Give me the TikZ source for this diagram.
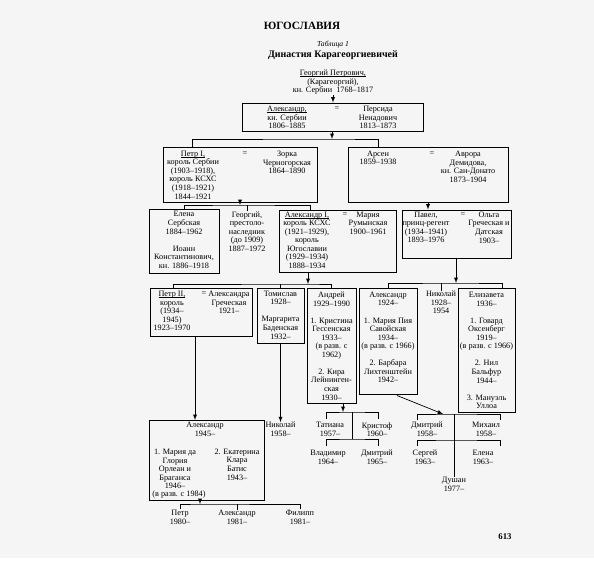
\documentclass[tikz,border=0pt]{standalone}
\usepackage{fontspec}
\setmainfont{Liberation Serif}
\usepackage{tikz}
\usetikzlibrary{arrows,positioning,calc,fit}

\definecolor{pagebg}{RGB}{245,245,245}
\newcommand{\pfont}{\fontsize{7}{7.3}\selectfont}
% underline close to the baseline, without changing the line depth
\newcommand{\uname}[1]{\setbox0\hbox{#1}\rlap{\rule[-0.9pt]{\wd0}{0.4pt}}\box0}

\begin{document}
\begin{tikzpicture}[
  x=0.03cm, y=-0.03cm,
  person/.style={align=center, inner sep=0pt, font=\pfont},
  family/.style={draw, line width=0.8pt, inner sep=0pt},
  arrow/.style={->, >=latex, line width=0.6pt},
  link/.style={line width=0.6pt}
]

% Page
\useasboundingbox (0,0) rectangle (594,566);
\fill[pagebg] (0,0) rectangle (594,558);

% Title
\node[inner sep=0pt, font=\fontsize{9.5}{11}\selectfont\bfseries] (country) at (302,26) {ЮГОСЛАВИЯ};
\node[inner sep=0pt, font=\fontsize{6.5}{7}\selectfont\itshape] (table) at (333,45) {Таблица 1};
\node[inner sep=0pt, font=\fontsize{8.5}{10}\selectfont\bfseries] (dynasty) at (333,55) {Династия Карагеоргиевичей};

% Karageorgij
\node[person] (karag) at (333,82.5) {\uname{Георгий Петрович,}\\(Карагеоргий),\\кн. Сербии\enspace 1768–1817};

\node[family, fit={(242,103) (423,131)}] (fam1) {};
\node[person] (alexK) at (287,117.5) {\uname{Александр,}\\кн. Сербии\\1806–1885};
\node[person] (eq1) at (337,109) {=};
\node[person] (persida) at (378,117.5) {Персида\\Ненадович\\1813–1873};
\draw[arrow] (karag.south) -- (karag.south |- fam1.north);

% Sons of Alexander
\node[family, fit={(163,147) (317,202)}] (fam2) {};
\node[person] (petrI) at (193,175) {\uname{Петр I,}\\король Сербии\\(1903–1918),\\король КСХС\\(1918–1921)\\1844–1921};
\node[person] (eq2) at (245,154) {=};
\node[person] (zorka) at (287,162.5) {Зорка\\Черногорская\\1864–1890};

\node[family, fit={(348,147) (508,202)}] (fam3) {};
\node[person] (arsen) at (378,158) {Арсен\\1859–1938};
\node[person] (eq3) at (432,154) {=};
\node[person] (avrora) at (468,167) {Аврора\\Демидова,\\кн. Сан-Донато\\1873–1904};

\coordinate (bar1) at (332,139);
\coordinate (top2) at (192,147);
\coordinate (top3) at (378,147);
\draw[arrow] (fam1.south -| bar1) -- (bar1);
\draw[link] (top2) |- (bar1) -| (top3);

% Children of Petr I
\node[family, fit={(149,209) (219,273)}] (fam4) {};
\node[person] (elena) at (184,240) {Елена\\Сербская\\1884–1962\\[7.3pt]Иоанн\\Константинович,\\кн. 1886–1918};
\node[person] (georgij) at (247,231.5) {Георгий,\\престоло-\\наследник\\(до 1909)\\1887–1972};

\node[family, fit={(279,210) (396,272)}] (fam5) {};
\node[person] (alexI) at (307,240) {\uname{Александр I,}\\король КСХС\\(1921–1929),\\король\\Югославии\\(1929–1934)\\1888–1934};
\node[person] (eq4) at (345,215) {=};
\node[person] (marija) at (368,223) {Мария\\Румынская\\1900–1961};

\coordinate (bar2) at (240,205);
\coordinate (top5) at (310,210);
\draw[arrow] (fam2.south) -- (bar2);
\draw[link] (fam4.north) |- (bar2) -| (top5);
\draw[link] (georgij.north) -- (georgij.north |- bar2);

% Son of Arsen
\node[family, fit={(402,210) (511,258)}] (fam6) {};
\node[person] (pavel) at (426,227.5) {Павел,\\принц-регент\\(1934–1941)\\1893–1976};
\node[person] (eq5) at (463,215) {=};
\node[person] (olga) at (489,227.5) {Ольга\\Греческая и\\Датская\\1903–};
\draw[arrow] (fam3.south) -- (fam3.south |- fam6.north);

% Children of Alexander I
\node[family, fit={(150,288) (252,336)}] (fam7) {};
\node[person] (petrII) at (172,311) {\uname{Петр II,}\\король\\(1934–\\1945)\\1923–1970};
\node[person] (eq6) at (204,294) {=};
\node[person] (aleksandra) at (229,302.5) {Александра\\Греческая\\1921–};

\node[family, fit={(257,288) (304,343)}] (fam8) {};
\node[person] (tomislav) at (280.5,315) {Томислав\\1928–\\[7.3pt]Маргарита\\Баденская\\1932–};

\node[family, fit={(307,288) (356,403)}] (fam9) {};
\node[person] (andrej) at (331.5,346) {Андрей\\1929–1990\\[7.3pt]1. Кристина\\Гессенская\\1933–\\(в разв. с\\1962)\\[7.3pt]2. Кира\\Лейнинген-\\ская\\1930–};

\coordinate (bar3) at (308,284);
\coordinate (top7) at (173,288);
\draw[arrow] (fam5.south -| bar3) -- (bar3);
\draw[link] (top7) |- (bar3) -| (fam9.north);
\draw[link] (fam8.north) -- (fam8.north |- bar3);

% Children of Pavel
\node[family, fit={(359,288) (417,394)}] (fam10) {};
\node[person] (aleksandr) at (388,337.5) {Александр\\1924–\\[7.3pt]1. Мария Пия\\Савойская\\1934–\\(в разв. с 1966)\\[7.3pt]2. Барбара\\Лихтенштейн\\1942–};

\node[person] (nikolaj) at (441,302.5) {Николай\\1928–\\1954};

\node[family, fit={(458,288) (515,412)}] (fam11) {};
\node[person] (elizaveta) at (486.5,350.5) {Елизавета\\1936–\\[7.3pt]1. Говард\\Оксенберг\\1919–\\(в разв. с 1966)\\[7.3pt]2. Нил\\Бальфур\\1944–\\[7.3pt]3. Мануэль\\Уллоа};

\coordinate (bar4) at (456,283);
\coordinate (top11) at (502,288);
\draw[arrow] (fam6.south -| bar4) -- (bar4);
\draw[link] (fam10.north) |- (bar4) -| (top11);
\draw[link] (nikolaj.north) -- (nikolaj.north |- bar4);

% Son of Petr II
\node[family, fit={(149,420) (264,500)}] (fam12) {};
\node[person] (aleks) at (205,429.5) {Александр\\1945–};
\node[person] (marija2) at (175,469) {1. Мария да\\Глория\\Орлеан и\\Браганса\\1946–};
\node[person] (ekaterina) at (237,464.5) {2. Екатерина\\Клара\\Батис\\1943–};
\node[person] (razv) at (179,495) {(в разв. с 1984)};
\coordinate (top12) at (195,420);
\draw[arrow] (fam7.south -| top12) -- (top12);

% Son of Tomislav
\node[person] (nikolaj2) at (280.5,429.5) {Николай\\1958–};
\draw[arrow] (fam8.south) -- (nikolaj2.north);

% Children of Andrej
\node[person] (tatiana) at (330,429.5) {Татиана\\1957–};
\node[person] (kristof) at (377,429.5) {Кристоф\\1960–};
\node[person] (vladimir) at (328,457.5) {Владимир\\1964–};
\node[person] (dmitrij) at (377,457.5) {Дмитрий\\1965–};
\coordinate (in5) at (343,412);
\coordinate (bar5) at (352,412);
\coordinate (bar6) at (352,439);
\coordinate (l5) at (326,419);
\coordinate (r5) at (378,419);
\coordinate (l6) at (326,446);
\coordinate (r6) at (378,446);
\draw[arrow] (fam9.south -| in5) -- (in5);
\draw[link] (l5) |- (bar5) -| (r5);
\draw[link] (bar5) -- (bar6);
\draw[link] (l6) |- (bar6) -| (r6);

% Children of Alexander (1924)
\node[person] (dmitrij2) at (427,429.5) {Дмитрий\\1958–};
\node[person] (mihail) at (486,429.5) {Михаил\\1958–};
\node[person] (sergej) at (425,457.5) {Сергей\\1963–};
\node[person] (elena2) at (483,457.5) {Елена\\1963–};
\node[person] (dushan) at (454,484.5) {Душан\\1977–};
\coordinate (in7) at (443,414);
\coordinate (bar7) at (454,414);
\coordinate (bar8) at (454,440);
\coordinate (l7) at (417,420);
\coordinate (r7) at (500,420);
\coordinate (l8) at (417,446);
\coordinate (r8) at (500,446);
\draw[arrow] ($(fam10.south)+(9,1)$) -- (in7);
\draw[link] (l7) |- (bar7) -| (r7);
\draw[link] (bar7) -- (bar7 |- dushan.north);
\draw[link] (l8) |- (bar8) -| (r8);

% Children of Alexander (1945)
\node[person] (petr3) at (180,517.5) {Петр\\1980–};
\node[person] (aleks4) at (237,517.5) {Александр\\1981–};
\node[person] (filipp) at (300,517.5) {Филипп\\1981–};
\coordinate (bar9) at (200,504);
\coordinate (l9) at (180,509);
\coordinate (r9) at (300,509);
\draw[arrow] (fam12.south -| bar9) -- (bar9);
\draw[link] (l9) |- (bar9) -| (r9);
\draw[link] (aleks4.north) -- (aleks4.north |- bar9);

% Page number
\node[inner sep=0pt, font=\fontsize{7.5}{9}\selectfont\bfseries] (pagenum) at (505,537) {613};

\end{tikzpicture}
\end{document}
